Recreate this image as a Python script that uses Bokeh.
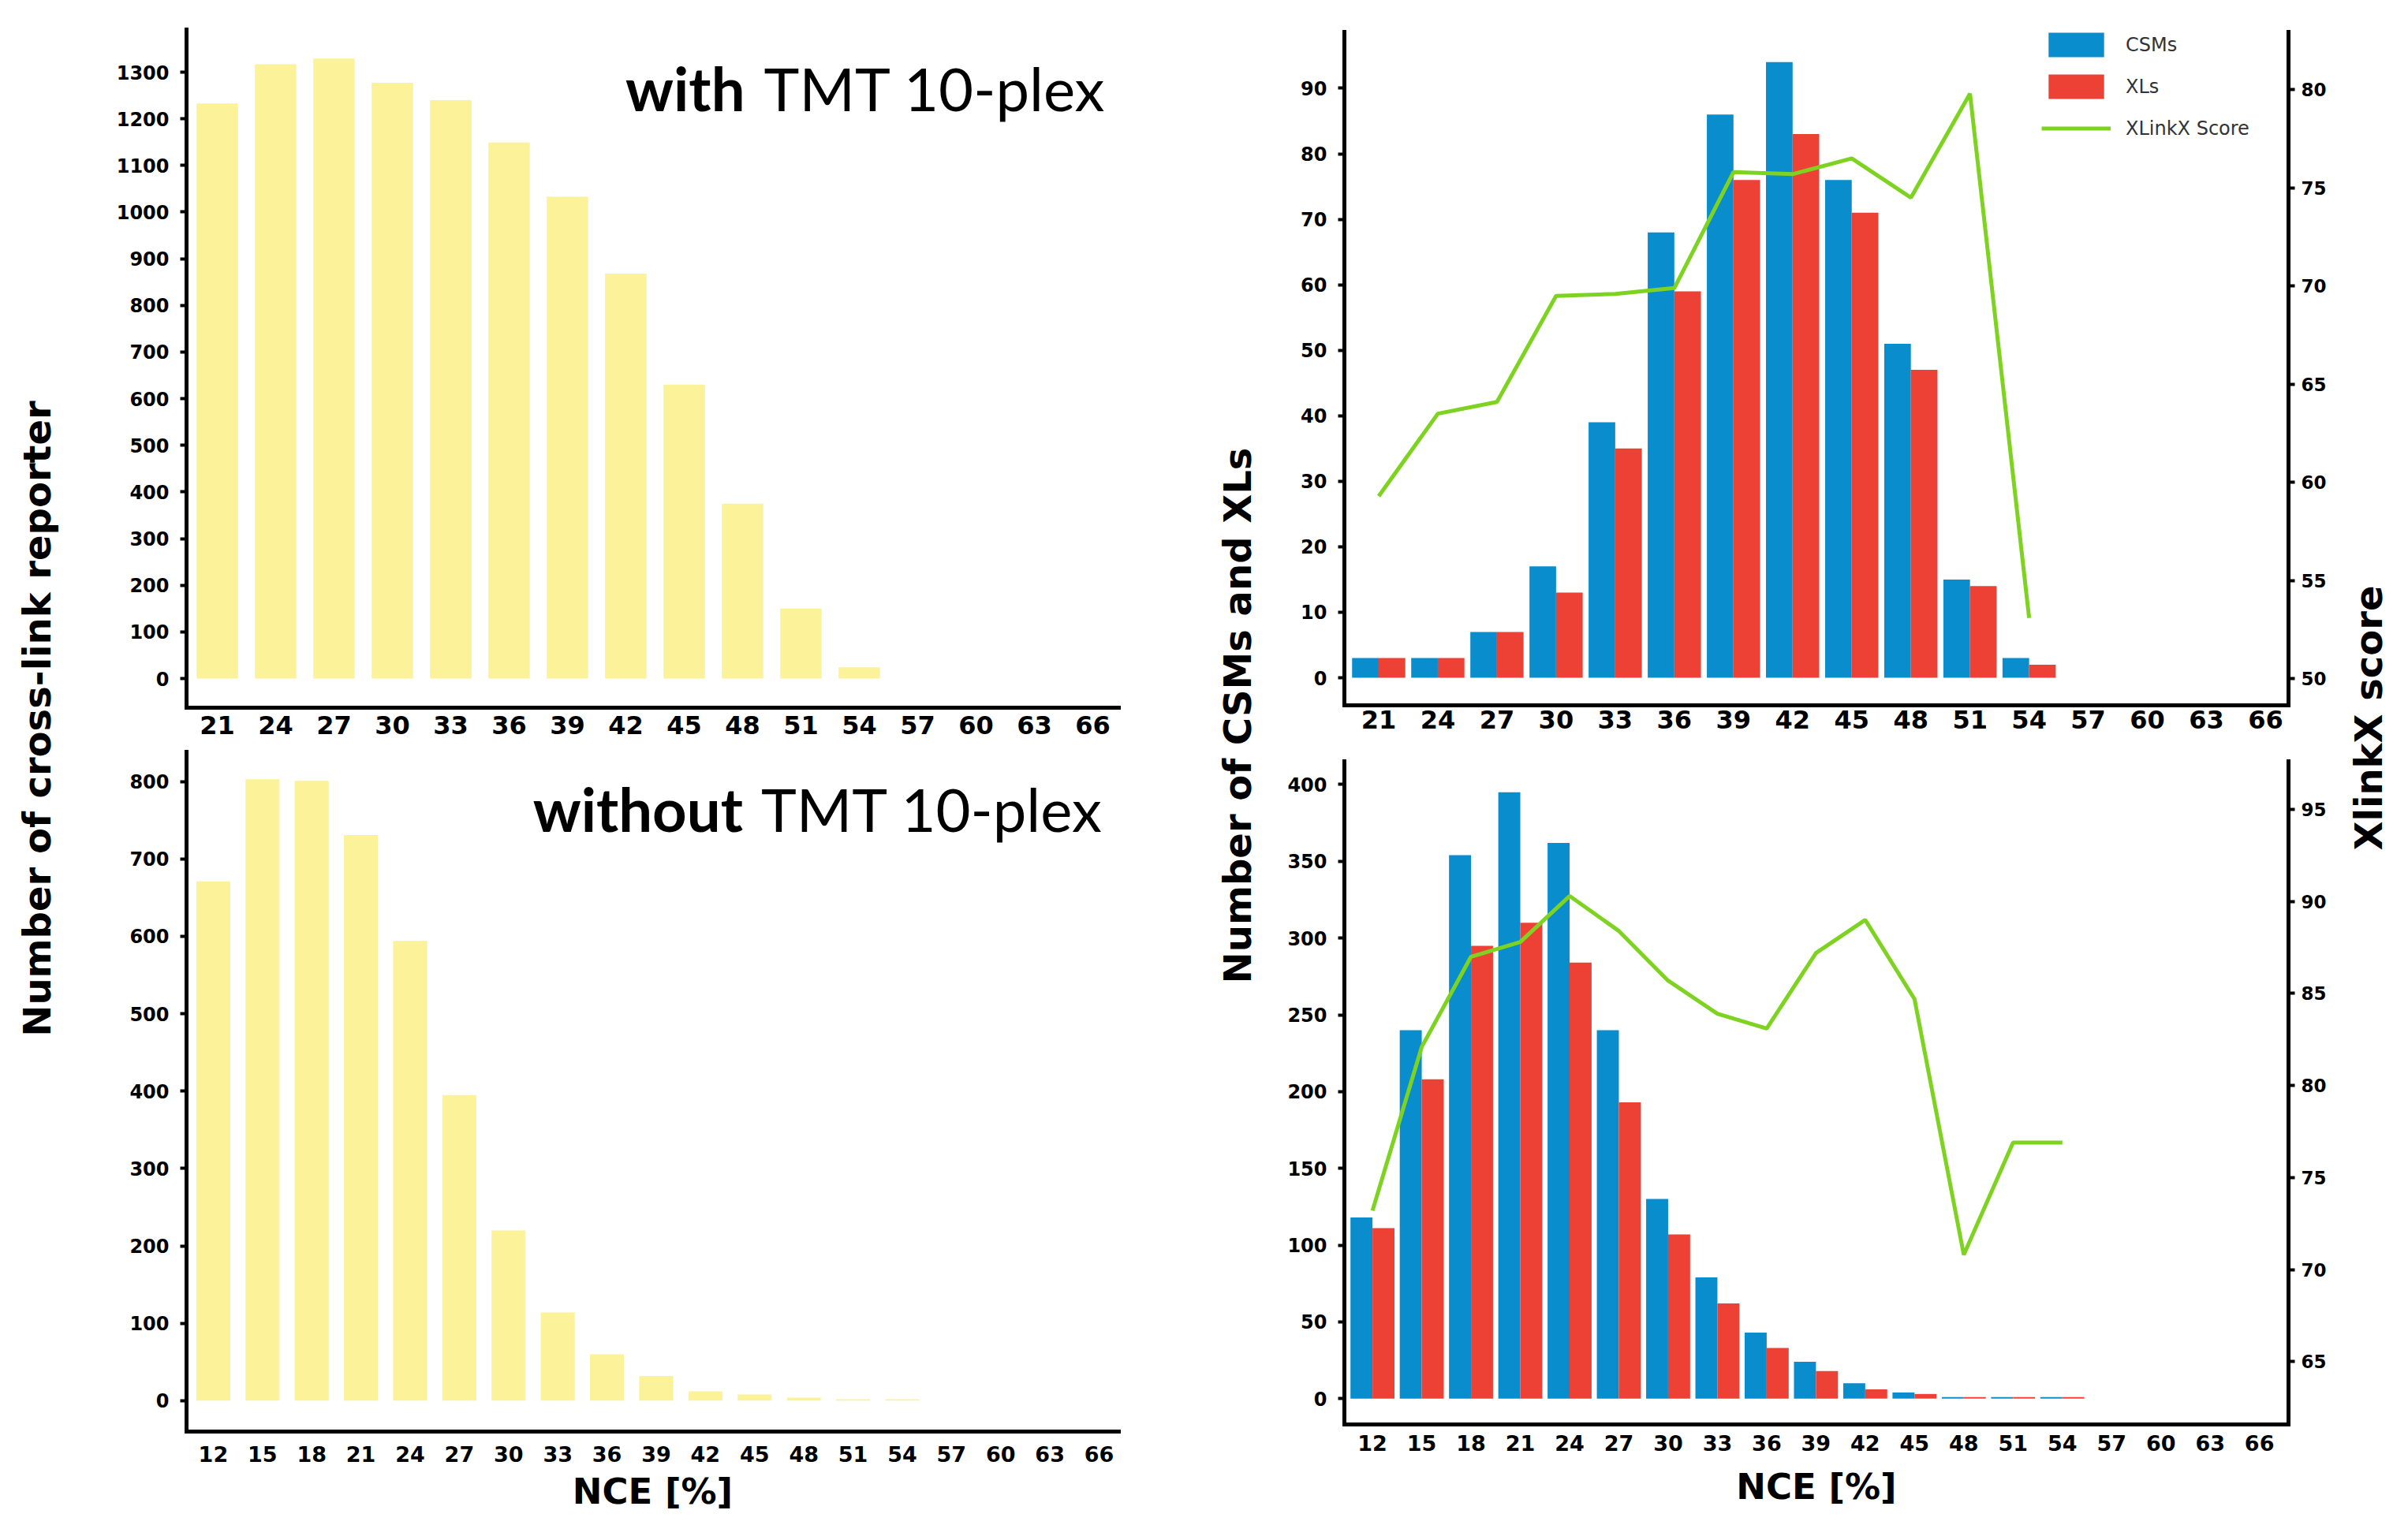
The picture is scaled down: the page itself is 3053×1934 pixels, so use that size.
import math
from bokeh.plotting import figure
from bokeh.layouts import row, column
from bokeh.models import Range1d, LinearAxis, FixedTicker, Label, Legend, LegendItem
from bokeh.embed import file_html
from bokeh.resources import INLINE

# ---------------- data ----------------
nce_with = [21, 24, 27, 30, 33, 36, 39, 42, 45, 48, 51, 54, 57, 60, 63, 66]
reporter_with = [1233, 1317, 1329, 1277, 1240, 1149, 1033, 868, 630, 375, 150, 24, 0, 0, 0, 0]

nce_without = [12, 15, 18, 21, 24, 27, 30, 33, 36, 39, 42, 45, 48, 51, 54, 57, 60, 63, 66]
reporter_without = [671, 803, 801, 731, 594, 395, 220, 114, 60, 32, 12, 8, 4, 2, 2, 0, 0, 0, 0]

nce_tmt = [21, 24, 27, 30, 33, 36, 39, 42, 45, 48, 51, 54, 57, 60, 63, 66]
csms_tmt = [3, 3, 7, 17, 39, 68, 86, 94, 76, 51, 15, 3, 0, 0, 0, 0]
xls_tmt = [3, 3, 7, 13, 35, 59, 76, 83, 71, 47, 14, 2, 0, 0, 0, 0]
score_nce_tmt = [21, 24, 27, 30, 33, 36, 39, 42, 45, 48, 51, 54]
score_tmt = [59.3, 63.5, 64.1, 69.5, 69.6, 69.9, 75.8, 75.7, 76.5, 74.5, 79.8, 53.1]

nce_notmt = [12, 15, 18, 21, 24, 27, 30, 33, 36, 39, 42, 45, 48, 51, 54, 57, 60, 63, 66]
csms_notmt = [118, 240, 354, 395, 362, 240, 130, 79, 43, 24, 10, 4, 1, 1, 1, 0, 0, 0, 0]
xls_notmt = [111, 208, 295, 310, 284, 193, 107, 62, 33, 18, 6, 3, 1, 1, 1, 0, 0, 0, 0]
score_nce_notmt = [12, 15, 18, 21, 24, 27, 30, 33, 36, 39, 42, 45, 48, 51, 54]
score_notmt = [73.2, 82.1, 87.0, 87.8, 90.3, 88.4, 85.7, 83.9, 83.1, 87.2, 89.0, 84.7, 70.8, 76.9, 76.9]

yticks_with = [0, 100, 200, 300, 400, 500, 600, 700, 800, 900, 1000, 1100, 1200, 1300]
yticks_without = [0, 100, 200, 300, 400, 500, 600, 700, 800]
yticks_tmt = [0, 10, 20, 30, 40, 50, 60, 70, 80, 90]
yticks_score_tmt = [50, 55, 60, 65, 70, 75, 80]
yticks_notmt = [0, 50, 100, 150, 200, 250, 300, 350, 400]
yticks_score_notmt = [65, 70, 75, 80, 85, 90, 95]

series_names = ["CSMs", "XLs", "XLinkX Score"]

# ---------------- styles ----------------
YELLOW = "#FBF29A"
BLUE = "#0A8DCC"
RED = "#EE4136"
GREEN = "#7ED321"
TICK_FONT = "DejaVu Sans"
H = 1918


def style_axis(ax, ticks, tick_out, standoff, size):
    ax.ticker = FixedTicker(ticks=ticks, minor_ticks=[])
    ax.axis_line_width = 5
    ax.axis_line_color = "black"
    ax.axis_line_cap = "square"
    ax.major_tick_line_width = 4
    ax.major_tick_line_color = "black"
    ax.major_tick_out = tick_out
    ax.major_tick_in = 0
    ax.minor_tick_out = 0
    ax.minor_tick_in = 0
    ax.major_label_text_font = TICK_FONT
    ax.major_label_text_font_style = "bold"
    ax.major_label_text_font_size = f"{size}px"
    ax.major_label_text_color = "black"
    ax.major_label_standoff = standoff


def nce_axis_label(ax, standoff):
    ax.axis_label = "NCE [%]"
    ax.axis_label_text_font = TICK_FONT
    ax.axis_label_text_font_style = "bold"
    ax.axis_label_text_font_size = "45px"
    ax.axis_label_text_color = "black"
    ax.axis_label_standoff = standoff


def panel(fig_x0, fig_y0, fig_w, fig_h, frame, xr, yr):
    fx0, fy0, fx1, fy1 = frame
    p = figure(width=fig_w, height=fig_h,
               x_range=Range1d(*xr), y_range=Range1d(*yr),
               min_border_left=fx0 - fig_x0, min_border_right=fig_x0 + fig_w - fx1,
               min_border_top=fy0 - fig_y0, min_border_bottom=fig_y0 + fig_h - fy1,
               output_backend="svg", toolbar_location=None)
    p.outline_line_color = None
    p.xgrid.visible = False
    p.ygrid.visible = False
    p.background_fill_color = "white"
    p.border_fill_color = "white"
    return p


def px2x(px, frame, xr):
    return xr[0] + (px - frame[0]) * (xr[1] - xr[0]) / (frame[2] - frame[0])


def px2y(py, frame, yr):
    return yr[1] - (py - frame[1]) * (yr[1] - yr[0]) / (frame[3] - frame[1])


def title_labels(p, frame, xr, yr, bold_word, bold_right_px, rest_left_px, baseline_px):
    yb = px2y(baseline_px, frame, yr)
    p.add_layout(Label(x=px2x(bold_right_px, frame, xr), y=yb, text=bold_word,
                       text_align="right", text_baseline="alphabetic",
                       text_font="Lato", text_font_style="bold", text_font_size="76px",
                       text_color="black"))
    p.add_layout(Label(x=px2x(rest_left_px, frame, xr), y=yb, text="TMT 10-plex",
                       text_align="left", text_baseline="alphabetic",
                       text_font="Lato", text_font_size="76px", text_color="black"))


# page coordinates below include the 8px offset given by the root margin
# ---------------- top-left: with TMT ----------------
f_tl = (236, 37, 1418, 897)
xr_tl = (19.42, 67.34)
yr_tl = (-62.5, 1391.3)
p_tl = panel(120, 8, 1360, 942, f_tl, xr_tl, yr_tl)
p_tl.vbar(x=nce_with, top=reporter_with, bottom=0, width=2.13, fill_color=YELLOW, line_color=None)
style_axis(p_tl.yaxis[0], yticks_with, 8, 14, 24)
style_axis(p_tl.xaxis[0], nce_with, 0, 10, 32)
title_labels(p_tl, f_tl, xr_tl, yr_tl, "with", 944, 968, 111)

# ---------------- bottom-left: without TMT ----------------
f_bl = (236, 953, 1419, 1815)
xr_bl = (10.37, 67.2)
yr_bl = (-39.9, 838.4)
p_bl = panel(120, 950, 1360, 976, f_bl, xr_bl, yr_bl)
p_bl.vbar(x=nce_without, top=reporter_without, bottom=0, width=2.07, fill_color=YELLOW, line_color=None)
style_axis(p_bl.yaxis[0], yticks_without, 8, 14, 24)
style_axis(p_bl.xaxis[0], nce_without, 0, 18, 27)
nce_axis_label(p_bl.xaxis[0], 8)
title_labels(p_bl, f_bl, xr_bl, yr_bl, "without", 942, 965, 1025)

# ---------------- top-right: with TMT, CSMs / XLs ----------------
f_tr = (1699, 40, 2901, 894)
xr_tr = (19.26, 67.16)
yr_tr = (-4.21, 98.6)
p_tr = panel(1620, 8, 1345, 942, f_tr, xr_tr, yr_tr)
p_tr.extra_y_ranges = {"score": Range1d(48.65, 82.94)}
r_c = p_tr.vbar(x=[v - 0.675 for v in nce_tmt], top=csms_tmt, bottom=0, width=1.35,
                fill_color=BLUE, line_color=None)
r_x = p_tr.vbar(x=[v + 0.675 for v in nce_tmt], top=xls_tmt, bottom=0, width=1.35,
                fill_color=RED, line_color=None)
r_s = p_tr.line(x=score_nce_tmt, y=score_tmt, y_range_name="score", line_color=GREEN, line_width=5)
ax_r = LinearAxis(y_range_name="score")
p_tr.add_layout(ax_r, "right")
style_axis(p_tr.yaxis[0], yticks_tmt, 8, 14, 24)
style_axis(ax_r, yticks_score_tmt, 8, 8, 23)
style_axis(p_tr.xaxis[0], nce_tmt, 0, 6, 32)

leg = Legend(items=[LegendItem(label=series_names[0], renderers=[r_c]),
                    LegendItem(label=series_names[1], renderers=[r_x]),
                    LegendItem(label=series_names[2], renderers=[r_s])],
             location=(884, 712))
leg.glyph_width = 88
leg.glyph_height = 39
leg.label_height = 39
leg.spacing = 14
leg.padding = 0
leg.margin = 0
leg.label_standoff = 19
leg.border_line_color = None
leg.background_fill_alpha = 0
leg.label_text_font = TICK_FONT
leg.label_text_font_size = "24px"
leg.label_text_color = "#333333"
p_tr.add_layout(leg)

# ---------------- bottom-right: without TMT, CSMs / XLs ----------------
f_br = (1704, 965, 2906, 1806)
xr_br = (10.29, 67.77)
yr_br = (-16.85, 415.15)
p_br = panel(1620, 950, 1345, 976, f_br, xr_br, yr_br)
p_br.extra_y_ranges = {"score": Range1d(61.58, 97.62)}
p_br.vbar(x=[v - 0.67 for v in nce_notmt], top=csms_notmt, bottom=0, width=1.34,
          fill_color=BLUE, line_color=None)
p_br.vbar(x=[v + 0.67 for v in nce_notmt], top=xls_notmt, bottom=0, width=1.34,
          fill_color=RED, line_color=None)
p_br.line(x=score_nce_notmt, y=score_notmt, y_range_name="score", line_color=GREEN, line_width=5)
ax_r2 = LinearAxis(y_range_name="score")
p_br.add_layout(ax_r2, "right")
style_axis(p_br.yaxis[0], yticks_notmt, 8, 14, 24)
style_axis(ax_r2, yticks_score_notmt, 8, 8, 23)
style_axis(p_br.xaxis[0], nce_notmt, 0, 13, 27)
nce_axis_label(p_br.xaxis[0], 16)


# ---------------- side axis titles ----------------
def side(width, text, cx, cy):
    p = figure(width=width, height=H, x_range=Range1d(0, width), y_range=Range1d(0, H),
               min_border=0, x_axis_location=None, y_axis_location=None,
               output_backend="svg", toolbar_location=None)
    p.outline_line_color = None
    p.xgrid.visible = False
    p.ygrid.visible = False
    p.add_layout(Label(x=cx, y=H - cy, text=text, angle=math.pi / 2,
                       text_align="center", text_baseline="middle",
                       text_font=TICK_FONT, text_font_style="bold", text_font_size="48px",
                       text_color="black"))
    return p


s_left = side(112, "Number of cross-link reporter", 38, 903)
s_mid = side(140, "Number of CSMs and XLs", 88, 899)
s_right = side(80, "XlinkX score", 37, 902)

layout = row(s_left, column(p_tl, p_bl), s_mid, column(p_tr, p_br), s_right,
             margin=(8, 0, 0, 8))

open("out.html", "w").write(file_html(layout, INLINE))
